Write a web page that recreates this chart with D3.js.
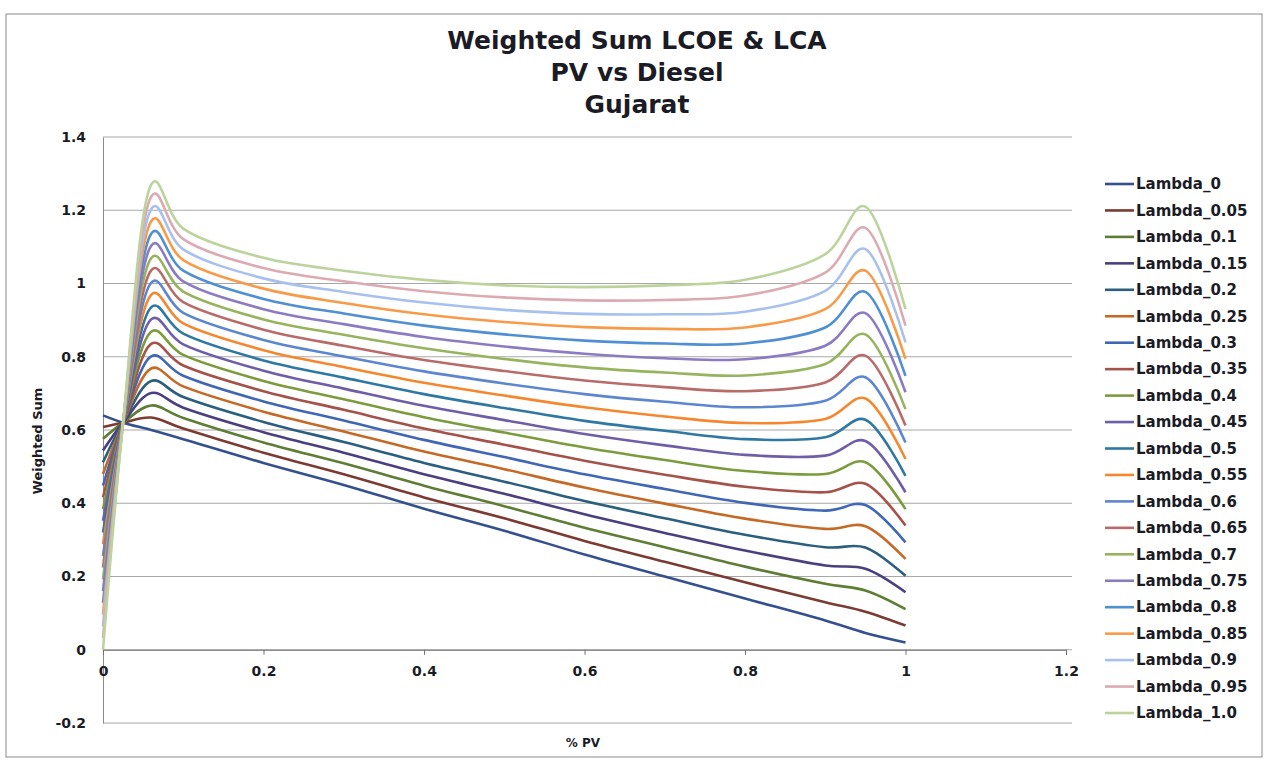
<!DOCTYPE html>
<html>
<head>
<meta charset="utf-8">
<script src="https://cdn.jsdelivr.net/npm/d3@7"></script>
<style>
  body { margin: 0; background: #fff; }
  svg text { font-family: "DejaVu Sans", Verdana, sans-serif; fill: #1b1b26; }
</style>
</head>
<body>
<script>
// % PV sample points
const xPoints = [0, 0.025, 0.06, 0.1, 0.2, 0.3, 0.4, 0.5, 0.6, 0.7, 0.8, 0.9, 0.95, 1.0];

// weighted sum values, one array per lambda
const lambda_0    = [0.640, 0.62, 0.600, 0.575, 0.510, 0.450, 0.385, 0.325, 0.260, 0.200, 0.140, 0.08, 0.046, 0.020];
const lambda_0_05 = [0.608, 0.62, 0.634, 0.604, 0.538, 0.479, 0.416, 0.359, 0.297, 0.240, 0.184, 0.13, 0.104, 0.066];
const lambda_0_1  = [0.576, 0.62, 0.667, 0.633, 0.566, 0.509, 0.448, 0.392, 0.333, 0.280, 0.227, 0.18, 0.162, 0.111];
const lambda_0_15 = [0.544, 0.62, 0.701, 0.661, 0.594, 0.538, 0.479, 0.426, 0.370, 0.319, 0.271, 0.23, 0.221, 0.157];
const lambda_0_2  = [0.512, 0.62, 0.734, 0.690, 0.622, 0.567, 0.510, 0.459, 0.406, 0.359, 0.314, 0.28, 0.279, 0.202];
const lambda_0_25 = [0.480, 0.62, 0.768, 0.719, 0.650, 0.596, 0.541, 0.493, 0.443, 0.399, 0.358, 0.33, 0.337, 0.248];
const lambda_0_3  = [0.448, 0.62, 0.801, 0.748, 0.678, 0.626, 0.573, 0.526, 0.479, 0.439, 0.401, 0.38, 0.395, 0.293];
const lambda_0_35 = [0.416, 0.62, 0.835, 0.776, 0.706, 0.655, 0.604, 0.560, 0.516, 0.478, 0.445, 0.43, 0.453, 0.339];
const lambda_0_4  = [0.384, 0.62, 0.868, 0.805, 0.734, 0.684, 0.635, 0.593, 0.552, 0.518, 0.488, 0.48, 0.512, 0.384];
const lambda_0_45 = [0.352, 0.62, 0.902, 0.834, 0.762, 0.713, 0.666, 0.627, 0.589, 0.558, 0.532, 0.53, 0.570, 0.430];
const lambda_0_5  = [0.320, 0.62, 0.935, 0.863, 0.790, 0.743, 0.698, 0.660, 0.625, 0.598, 0.575, 0.58, 0.628, 0.475];
const lambda_0_55 = [0.288, 0.62, 0.969, 0.891, 0.818, 0.772, 0.729, 0.694, 0.662, 0.637, 0.619, 0.63, 0.686, 0.521];
const lambda_0_6  = [0.256, 0.62, 1.002, 0.920, 0.846, 0.801, 0.760, 0.727, 0.698, 0.677, 0.662, 0.68, 0.744, 0.566];
const lambda_0_65 = [0.224, 0.62, 1.036, 0.949, 0.874, 0.830, 0.791, 0.761, 0.735, 0.717, 0.706, 0.73, 0.803, 0.612];
const lambda_0_7  = [0.192, 0.62, 1.069, 0.978, 0.902, 0.860, 0.823, 0.794, 0.771, 0.757, 0.749, 0.78, 0.861, 0.657];
const lambda_0_75 = [0.160, 0.62, 1.103, 1.006, 0.930, 0.889, 0.854, 0.828, 0.808, 0.796, 0.793, 0.83, 0.919, 0.703];
const lambda_0_8  = [0.128, 0.62, 1.136, 1.035, 0.958, 0.918, 0.885, 0.861, 0.844, 0.836, 0.836, 0.88, 0.977, 0.748];
const lambda_0_85 = [0.096, 0.62, 1.170, 1.064, 0.986, 0.947, 0.916, 0.895, 0.881, 0.876, 0.880, 0.93, 1.035, 0.794];
const lambda_0_9  = [0.064, 0.62, 1.203, 1.093, 1.014, 0.977, 0.948, 0.928, 0.917, 0.916, 0.923, 0.98, 1.094, 0.839];
const lambda_0_95 = [0.032, 0.62, 1.237, 1.121, 1.042, 1.006, 0.979, 0.962, 0.954, 0.955, 0.967, 1.03, 1.152, 0.885];
const lambda_1_0  = [0.000, 0.62, 1.270, 1.150, 1.070, 1.035, 1.010, 0.995, 0.990, 0.995, 1.010, 1.08, 1.210, 0.930];

const seriesNames = ["Lambda_0", "Lambda_0.05", "Lambda_0.1", "Lambda_0.15", "Lambda_0.2", "Lambda_0.25",
  "Lambda_0.3", "Lambda_0.35", "Lambda_0.4", "Lambda_0.45", "Lambda_0.5", "Lambda_0.55", "Lambda_0.6",
  "Lambda_0.65", "Lambda_0.7", "Lambda_0.75", "Lambda_0.8", "Lambda_0.85", "Lambda_0.9", "Lambda_0.95", "Lambda_1.0"];
const seriesValues = [lambda_0, lambda_0_05, lambda_0_1, lambda_0_15, lambda_0_2, lambda_0_25, lambda_0_3,
  lambda_0_35, lambda_0_4, lambda_0_45, lambda_0_5, lambda_0_55, lambda_0_6, lambda_0_65, lambda_0_7,
  lambda_0_75, lambda_0_8, lambda_0_85, lambda_0_9, lambda_0_95, lambda_1_0];
const seriesColors = ["#34508f", "#7b3b33", "#5e7d35", "#4b3f7f", "#2a5f7f", "#c46a26", "#3f67b5",
  "#a4524a", "#7a9c3c", "#6e5ea8", "#2f78a3", "#f5872f", "#5c86cf", "#b86b69", "#96b45e", "#8b7bc2",
  "#4f8fd4", "#f79b48", "#a8c0f0", "#dcaab2", "#bcd39c"];

const xTicks = [0, 0.2, 0.4, 0.6, 0.8, 1, 1.2];
const yTicks = [-0.2, 0, 0.2, 0.4, 0.6, 0.8, 1, 1.2, 1.4];

const W = 1272, H = 767;
const plot = { left: 103, right: 1066, top: 137, bottom: 723 };

const svg = d3.select("body").append("svg")
  .attr("width", W)
  .attr("height", H);

// chart border
svg.append("rect")
  .attr("x", 6).attr("y", 14)
  .attr("width", 1256).attr("height", 743)
  .attr("fill", "none")
  .attr("stroke", "#8a8a8a")
  .attr("stroke-width", 1);

const x = d3.scaleLinear().domain([0, 1.2]).range([plot.left, plot.right]);
const y = d3.scaleLinear().domain([-0.2, 1.4]).range([plot.bottom, plot.top]);

// horizontal gridlines
svg.append("g")
  .selectAll("line")
  .data(yTicks)
  .join("line")
  .attr("x1", plot.left).attr("x2", plot.right + 6)
  .attr("y1", d => y(d)).attr("y2", d => y(d))
  .attr("stroke", "#a8a8a8")
  .attr("stroke-width", 1);

// y axis
const yAxis = svg.append("g")
  .attr("transform", `translate(${plot.left},0)`)
  .call(d3.axisLeft(y).tickValues(yTicks).tickSize(0).tickPadding(17).tickFormat(d => String(d)));
yAxis.select(".domain").attr("stroke", "#8a8a8a");
yAxis.selectAll("text")
  .attr("font-size", 14).attr("font-weight", "bold")
  .attr("font-family", "DejaVu Sans");

// x axis crosses at y = 0
const xAxis = svg.append("g")
  .attr("transform", `translate(0,${y(0)})`)
  .call(d3.axisBottom(x).tickValues(xTicks).tickSize(5).tickPadding(11).tickFormat(d => String(d)));
xAxis.select(".domain").attr("stroke", "#707070");
xAxis.selectAll(".tick line").attr("stroke", "#707070");
xAxis.selectAll("text")
  .attr("font-size", 14).attr("font-weight", "bold")
  .attr("font-family", "DejaVu Sans");

// lines, smoothed like the spreadsheet
const line = d3.line()
  .x((d, i) => x(xPoints[i]))
  .y(d => y(d))
  .curve(d3.curveCatmullRom.alpha(0.2));

svg.append("g")
  .selectAll("path")
  .data(seriesValues)
  .join("path")
  .attr("d", d => line(d))
  .attr("fill", "none")
  .attr("stroke", (d, i) => seriesColors[i])
  .attr("stroke-width", 2.6)
  .attr("stroke-linejoin", "round");

// titles
const titleLines = ["Weighted Sum LCOE & LCA", "PV vs Diesel", "Gujarat"];
svg.append("g")
  .selectAll("text")
  .data(titleLines)
  .join("text")
  .attr("x", 637)
  .attr("y", (d, i) => 49 + i * 32)
  .attr("text-anchor", "middle")
  .attr("font-size", 25)
  .attr("font-weight", "bold")
  .text(d => d);

svg.append("text")
  .attr("x", 583).attr("y", 747)
  .attr("text-anchor", "middle")
  .attr("font-size", 12).attr("font-weight", "bold")
  .attr("font-family", "Liberation Sans Narrow, Liberation Sans, sans-serif")
  .text("% PV");

svg.append("text")
  .attr("transform", "translate(42,441) rotate(-90)")
  .attr("text-anchor", "middle")
  .attr("font-size", 13).attr("font-weight", "bold")
  .attr("font-family", "Liberation Sans Narrow, Liberation Sans, sans-serif")
  .text("Weighted Sum");

// legend
const legend = svg.append("g");
const rows = legend.selectAll("g")
  .data(seriesNames)
  .join("g")
  .attr("transform", (d, i) => `translate(1105,${184 + i * 26.45})`);
rows.append("line")
  .attr("x1", 0).attr("x2", 29)
  .attr("stroke", (d, i) => seriesColors[i])
  .attr("stroke-width", 2.6);
rows.append("text")
  .attr("x", 31).attr("dy", "0.35em")
  .attr("font-size", 15).attr("font-weight", "bold")
  .text(d => d);
</script>
</body>
</html>
